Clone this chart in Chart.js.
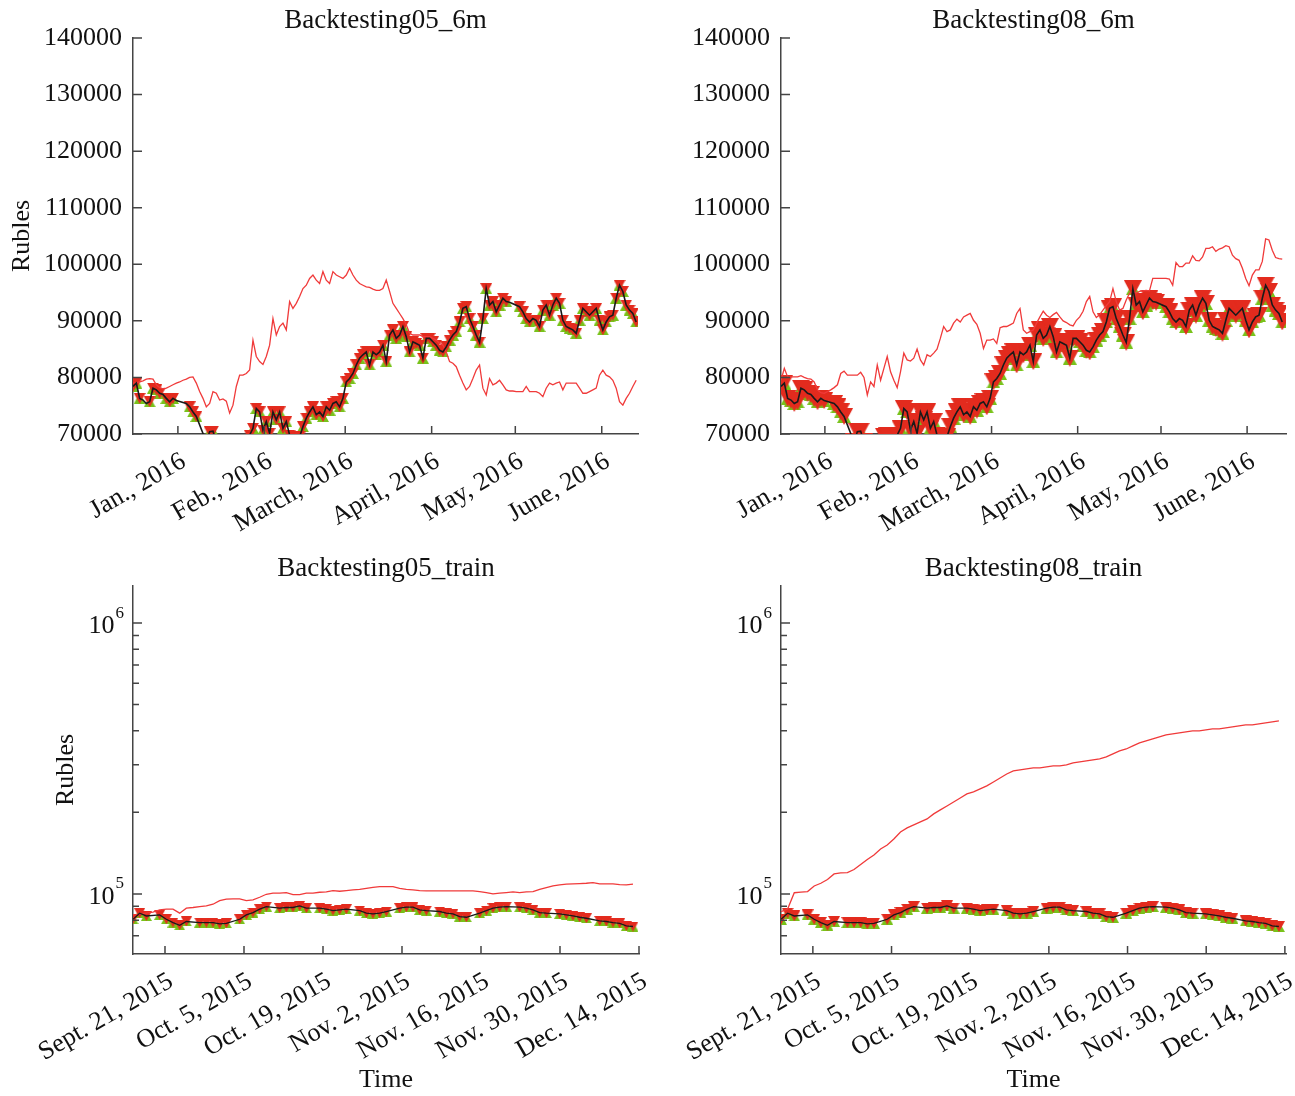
<!DOCTYPE html>
<html>
<head>
<meta charset="utf-8">
<script src="https://cdn.jsdelivr.net/npm/chart.js@4.4.1/dist/chart.umd.min.js"></script>
<style>
html, body { margin: 0; padding: 0; background: #fff; }
#wrap { position: relative; width: 1295px; height: 1096px; }
.cell { position: absolute; }
</style>
</head>
<body>
<div id="wrap">
    <div class="cell" style="left:0px;top:0px"><canvas id="tl" width="648" height="548"></canvas></div>
    <div class="cell" style="left:648px;top:0px"><canvas id="tr" width="647" height="548"></canvas></div>
    <div class="cell" style="left:0px;top:548px"><canvas id="bl" width="648" height="548"></canvas></div>
    <div class="cell" style="left:648px;top:548px"><canvas id="br" width="647" height="548"></canvas></div>
</div>
<script>
// 6 month test period, one sample every ~1.2 days (x = days from Jan 1, 2016)
const step6m = 1.195
const monthTicks = [0, 31, 60, 91, 121, 152]
const monthLabels = ['Jan., 2016', 'Feb., 2016', 'March, 2016', 'April, 2016', 'May, 2016', 'June, 2016']

const price6m = [
    78400, 79000, 76300, 76000, 75400, 75700, 78100, 77800, 77200, 77000,
    76300, 75700, 76300, 75900, null, null, 75400, 74800, 73900, 73100,
    null, null, 68600, 70400, 70500, 68600, 66900, 65700, 65100, 65100,
    65700, 69600, 69700, 66900, 68100, 69800, 71000, 74500, 73900, 70700,
    72200, 70100, 73900, 72500, 73900, 71000, 72200, 69800, 69500, 68600,
    69500, 71300, 72800, 73900, 74800, 73400, 73900, 73100, 74800, 74200,
    75400, 75700, 74800, 76300, 79200, 79800, 80700, 82200, 83400, 84000,
    84500, 82200, 84500, 84000, 84500, 85700, 82800, 87500, 88400, 86900,
    87500, 89000, 87200, 84500, 86300, 86000, 85700, 83400, 86900, 86900,
    86300, 85700, 84800, 84500, 85400, 86600, 87500, 88100, 89800, 92200,
    92500, 90400, 89000, 87500, 86200, 90400, 95700, 92800, 93400, 91600,
    92800, 94000, 93400, 93300, null, null, 92500, 91600, 90400, 89800,
    90400, 90100, 89000, 91900, 92800, 91000, 92800, 94000, 93100, 90100,
    89000, 88700, 88400, 87800, 90100, 92200, 91600, 91000, 91600, 92200,
    90100, 88400, 89800, 90700, 91000, 94000, 96300, 95200, 92800, 91900,
    91300, 89800
]

const value05_6m = [
    79000, 79100, 79200, 79400, 79700, 79800, 79700, 78700, 78200, 78000,
    78100, 78400, 78700, 79000, 79200, 79500, 79700, 80000, 80100, 79000,
    77500, 76300, 74800, 75400, 77500, 77200, 76000, 76200, 75800, 73700,
    75100, 78400, 80400, 80400, 80700, 81300, 86600, 83700, 82800, 82300,
    83700, 85700, 90400, 87500, 89000, 89600, 88400, 93400, 92200, 93100,
    94300, 95700, 96300, 97500, 98100, 97200, 96600, 98700, 97200, 96600,
    98700, 98100, 97800, 97500, 98100, 99300, 98100, 97200, 96600, 96300,
    96000, 95900, 95600, 95400, 95400, 95700, 97200, 95200, 93100, 92200,
    91300, 90400, 89300, 87800, 87500, 87500, 87500, 87200, 87200, 87200,
    86900, 86600, 86000, 85700, 84500, 82800, 82500, 81900, 80400, 79000,
    77800, 78400, 79800, 81300, 82200, 78100, 76900, 79800, 78700, 79000,
    79500, 78700, 77800, 77600, 77600, 77500, 77500, 77500, 78400, 77500,
    77500, 77500, 77200, 76600, 78100, 79000, 78700, 79000, 79200, 77800,
    79000, 79000, 79000, 79000, 78100, 77200, 77200, 77500, 77800, 78100,
    80400, 81300, 80400, 80100, 79500, 78100, 75700, 75100, 76300, 77200,
    78400, 79500
]

const value08_6m = [
    79500, 81600, 80100, 80100, 80100, 80100, 80300, 80000, 79800, 79700,
    79200, 77800, 77300, 77200, 77500, 77800, 78200, 78700, 80700, 81100,
    80400, 80400, 80400, 80400, 80900, 80000, 76900, 79200, 78400, 82200,
    79500, 81600, 83700, 81000, 79500, 78200, 81000, 84300, 83100, 82900,
    83400, 85000, 83100, 82200, 84000, 83700, 84300, 85000, 86900, 89000,
    88100, 88400, 89600, 90300, 89800, 90700, 91000, 91300, 90100, 89400,
    87800, 85100, 86600, 86600, 86800, 86000, 88800, 89000, 89000, 89300,
    89600, 91300, 92200, 88400, 87800, 88100, 88400, 89600, 90700, 91700,
    91000, 90600, 91100, 91500, 90700, 90000, 89700, 89300, 89100, 90100,
    90700, 91700, 93400, 94300, 91600, 90600, 91100, 91900, 92700, 93400,
    95700, 93400, 91900, 92200, 93700, 94900, 95200, 94900, 95200, 95300,
    95400, 95300, 97500, 97500, 97500, 97500, 97500, 97400, 96300, 100300,
    99600, 99600, 100200, 100200, 101500, 100700, 100600, 101300, 102800, 102800,
    103100, 102300, 102700, 102900, 103300, 103100, 101600, 101000, 100700, 99300,
    97500, 96200, 98100, 99000, 99000, 100500, 104500, 104300, 102500, 101200,
    101000, 100900
]

// sample index ranges that carry buy/sell marks
const trades05_6m = [[0, 2], [5, 8], [10, 12], [17, 19], [22, 25], [35, 48], [50, 112], [116, 119], [121, 151]]
const trades08_6m = [[0, 19], [22, 25], [31, 32], [35, 113], [116, 151]]

// training period, one sample every ~1.18 days (x = days from Sept 21, 2015)
const stepTrain = 1.1814
const weekTicks = [0, 14, 28, 42, 56, 70, 84]
const weekLabels = ['Sept. 21, 2015', 'Oct. 5, 2015', 'Oct. 19, 2015', 'Nov. 2, 2015', 'Nov. 16, 2015', 'Nov. 30, 2015', 'Dec. 14, 2015']

const priceTrain = [
    80600, 84900, 82900, null, 83700, 80600, 78400, 76600, 79100, null,
    78400, 78400, 78400, 77500, 77900, null, 80600, 83700, 85300, 87800,
    89800, null, 88600, 89100, 89100, 90300, 88600, null, 88600, 87800,
    86800, 87300, 87800, null, 86800, 84900, 84400, 84900, 86100, null,
    88600, 89300, 89300, 87300, 86800, null, 86100, 84900, 84400, 82500,
    82000, null, 84900, 86800, 88600, 89300, 89800, null, 89300, 88600,
    87300, 85300, 84900, null, 84400, 83700, 82900, 82000, 81300, null,
    79500, 79100, 78400, 77900, 76200, 75800
]

const value05_train = [
    83700, 84100, 84900, 85600, 87300, 87800, 87800, 84900, 88600, 89100,
    89800, 90300, 91600, 94500, 95600, 95800, 95800, 94500, 95000, 97200,
    99700, 100600, 100600, 101100, 99400, 99400, 100600, 100600, 101400, 101700,
    102900, 102300, 102900, 103500, 104000, 104900, 105800, 106400, 106400, 106400,
    104900, 104000, 103500, 102900, 102600, 102600, 102600, 102600, 102600, 102600,
    102600, 102600, 102000, 101100, 100000, 100600, 101100, 101700, 101100, 101700,
    102000, 104000, 105500, 107000, 107900, 108600, 108900, 109200, 109500, 110100,
    108900, 108900, 108900, 108300, 107900, 108600
]

const value08_train = [
    86000, 88000, 101000, 101500, 102000, 107000, 109500, 113000, 118500, 119500,
    119800, 123000, 128500, 134000, 139300, 146600, 151600, 159500, 169300, 175200,
    179700, 184400, 189100, 197400, 204200, 211200, 218500, 226100, 233900, 237900,
    244100, 250400, 259000, 267900, 277200, 284400, 286800, 289300, 291700, 291700,
    294200, 296700, 296700, 299200, 304400, 307000, 309600, 312300, 314900, 320300,
    328600, 337100, 342800, 351700, 360800, 367000, 373300, 379700, 386200, 389500,
    392900, 396200, 399600, 399600, 403000, 406500, 406500, 409900, 413400, 416900,
    420500, 420500, 424100, 427600, 431300, 435000
]

const logTicks = [70000, 80000, 90000, 100000, 200000, 300000, 400000, 500000, 600000, 700000, 800000, 900000, 1000000]
const logMajor = { 100000: '5', 1000000: '6' }

const axisColor = '#444'
const serif = 'Liberation Serif'

// matplotlib style triangle markers, centred on their box
function triangle(color, w, h, down) {
    const c = document.createElement('canvas')
    c.width = w
    c.height = h
    const g = c.getContext('2d')
    g.fillStyle = color
    g.beginPath()
    if (down) {
        g.moveTo(0, 0); g.lineTo(w, 0); g.lineTo(w / 2, h)
    } else {
        g.moveTo(w / 2, 0); g.lineTo(w, h); g.lineTo(0, h)
    }
    g.closePath()
    g.fill()
    return c
}

function points(start, step, values) {
    return values.map((v, i) => ({ x: start + step * i, y: v }))
}

function marked(values, ranges) {
    if (!ranges) return values
    return values.map((v, i) => ranges.some(r => i >= r[0] && i <= r[1]) ? v : null)
}

// ticks point inwards; log labels get a real superscript
const innerTicks = {
    id: 'innerTicks',
    afterDraw(chart) {
        const { ctx, chartArea } = chart
        const xs = chart.scales.x
        const ys = chart.scales.y
        const isLog = ys.type === 'logarithmic'
        ctx.save()
        ctx.strokeStyle = axisColor
        ctx.lineWidth = 1.5
        ctx.beginPath()
        xs.ticks.forEach(t => {
            const p = xs.getPixelForValue(t.value)
            ctx.moveTo(p, chartArea.bottom)
            ctx.lineTo(p, chartArea.bottom - 8)
        })
        ys.ticks.forEach(t => {
            const p = ys.getPixelForValue(t.value)
            const len = (!isLog || logMajor[t.value]) ? 9 : 6
            ctx.moveTo(chartArea.left, p)
            ctx.lineTo(chartArea.left + len, p)
        })
        ctx.stroke()

        if (isLog) {
            ctx.fillStyle = '#111'
            ctx.textBaseline = 'middle'
            ys.ticks.forEach(t => {
                const sup = logMajor[t.value]
                if (!sup) return
                const p = ys.getPixelForValue(t.value)
                const right = chartArea.left - 9
                ctx.font = '17px ' + serif
                const sw = ctx.measureText(sup).width
                ctx.textAlign = 'left'
                ctx.fillText(sup, right - sw, p - 10)
                ctx.font = '26px ' + serif
                ctx.textAlign = 'right'
                ctx.fillText('10', right - sw - 1, p + 3)
            })
        }
        ctx.restore()
    }
}

function makeChart(id, o) {
    const red = triangle('#e32b1e', o.mark[0], o.mark[1], true)
    const green = triangle('#78c21a', o.greenMark[0], o.greenMark[1], false)
    const canvas = document.getElementById(id)
    const H = canvas.height
    const markData = marked(o.price, o.trades)

    const yScale = o.log ? {
        type: 'logarithmic',
        min: 60000,
        max: 1370000,
        afterBuildTicks: s => { s.ticks = logTicks.map(v => ({ value: v })) },
        ticks: {
            autoSkip: false,
            padding: 11,
            font: { family: serif, size: 26 },
            callback: () => ''
        }
    } : {
        type: 'linear',
        min: 70000,
        max: 140000,
        ticks: {
            stepSize: 10000,
            autoSkip: false,
            padding: 11,
            color: '#111',
            font: { family: serif, size: 26 },
            callback: v => String(v)
        }
    }
    Object.assign(yScale, {
        position: 'left',
        grid: { display: false, drawTicks: false },
        border: { display: true, color: axisColor, width: 1.5 },
        title: {
            display: !!o.yTitle,
            text: o.yTitle || '',
            color: '#111',
            font: { family: serif, size: 26 },
            padding: { top: o.yTitlePad || 0, bottom: 0 }
        },
        afterFit: s => { s.width = 133; s.paddingTop = 0; s.paddingBottom = 0 }
    })

    return new Chart(canvas, {
        type: 'line',
        data: {
            datasets: [
                {
                    data: points(o.xMin, o.step, o.price),
                    borderColor: '#1a1a1a',
                    borderWidth: o.lineWidth,
                    pointRadius: 0,
                    spanGaps: true,
                    tension: 0,
                    clip: 0,
                    order: 0
                },
                {
                    data: points(o.xMin, o.step, o.value),
                    borderColor: '#f03a3a',
                    borderWidth: 1.3,
                    pointRadius: 0,
                    tension: 0,
                    clip: 0,
                    order: 1
                },
                {
                    data: points(o.xMin, o.step, markData),
                    showLine: false,
                    pointStyle: red,
                    pointRadius: 8,
                    pointHoverRadius: 8,
                    clip: 0,
                    order: 2
                },
                {
                    data: points(o.xMin, o.step, markData),
                    showLine: false,
                    pointStyle: green,
                    pointRadius: 8,
                    pointHoverRadius: 8,
                    clip: 0,
                    order: 3
                }
            ]
        },
        options: {
            responsive: false,
            animation: false,
            events: [],
            layout: { padding: { left: 0, right: o.padRight, top: 0, bottom: 0 } },
            plugins: {
                legend: { display: false },
                tooltip: { enabled: false },
                title: {
                    display: true,
                    text: o.title,
                    fullSize: false,
                    color: '#111',
                    font: { family: serif, size: 27, weight: 'normal' },
                    padding: { top: 4.8, bottom: 0.8 }
                }
            },
            scales: {
                x: {
                    type: 'linear',
                    min: o.xMin,
                    max: o.xMax,
                    grid: { display: false, drawTicks: false },
                    border: { display: true, color: axisColor, width: 1.5 },
                    afterBuildTicks: s => { s.ticks = o.xTicks.map(v => ({ value: v })) },
                    ticks: {
                        autoSkip: false,
                        minRotation: 30,
                        maxRotation: 30,
                        padding: 12,
                        labelOffset: 6,
                        color: '#111',
                        font: { family: serif, size: 26 },
                        callback: (v, i) => o.xLabels[i]
                    },
                    title: {
                        display: !!o.xTitle,
                        text: o.xTitle || '',
                        color: '#111',
                        font: { family: serif, size: 26 },
                        padding: { top: 0, bottom: 0.4 }
                    },
                    afterFit: s => { s.height = H - o.areaBottom; s.paddingLeft = 0; s.paddingRight = 0 }
                },
                y: yScale
            }
        },
        plugins: [innerTicks]
    })
}

makeChart('tl', {
    title: 'Backtesting05_6m', yTitle: 'Rubles', yTitlePad: 6.4,
    xMin: -16.1, xMax: 165.0, step: step6m, xTicks: monthTicks, xLabels: monthLabels,
    price: price6m, value: value05_6m, trades: trades05_6m,
    mark: [12, 11], greenMark: [12, 11], lineWidth: 1.6, padRight: 10, areaBottom: 434
})

makeChart('tr', {
    title: 'Backtesting08_6m',
    xMin: -15.8, xMax: 166.0, step: step6m, xTicks: monthTicks, xLabels: monthLabels,
    price: price6m, value: value08_6m, trades: trades08_6m,
    mark: [18, 17], greenMark: [14, 13], lineWidth: 1.6, padRight: 7, areaBottom: 434
})

makeChart('bl', {
    title: 'Backtesting05_train', yTitle: 'Rubles', yTitlePad: 50.4, xTitle: 'Time', log: true,
    xMin: -5.67, xMax: 84.0, step: stepTrain, xTicks: weekTicks, xLabels: weekLabels,
    price: priceTrain, value: value05_train, trades: null,
    mark: [11, 10], greenMark: [11, 10], lineWidth: 1.3, padRight: 9, areaBottom: 406
})

makeChart('br', {
    title: 'Backtesting08_train', xTitle: 'Time', log: true,
    xMin: -5.67, xMax: 84.2, step: stepTrain, xTicks: weekTicks, xLabels: weekLabels,
    price: priceTrain, value: value08_train, trades: null,
    mark: [12, 11], greenMark: [12, 11], lineWidth: 1.3, padRight: 7, areaBottom: 406
})
</script>
</body>
</html>
